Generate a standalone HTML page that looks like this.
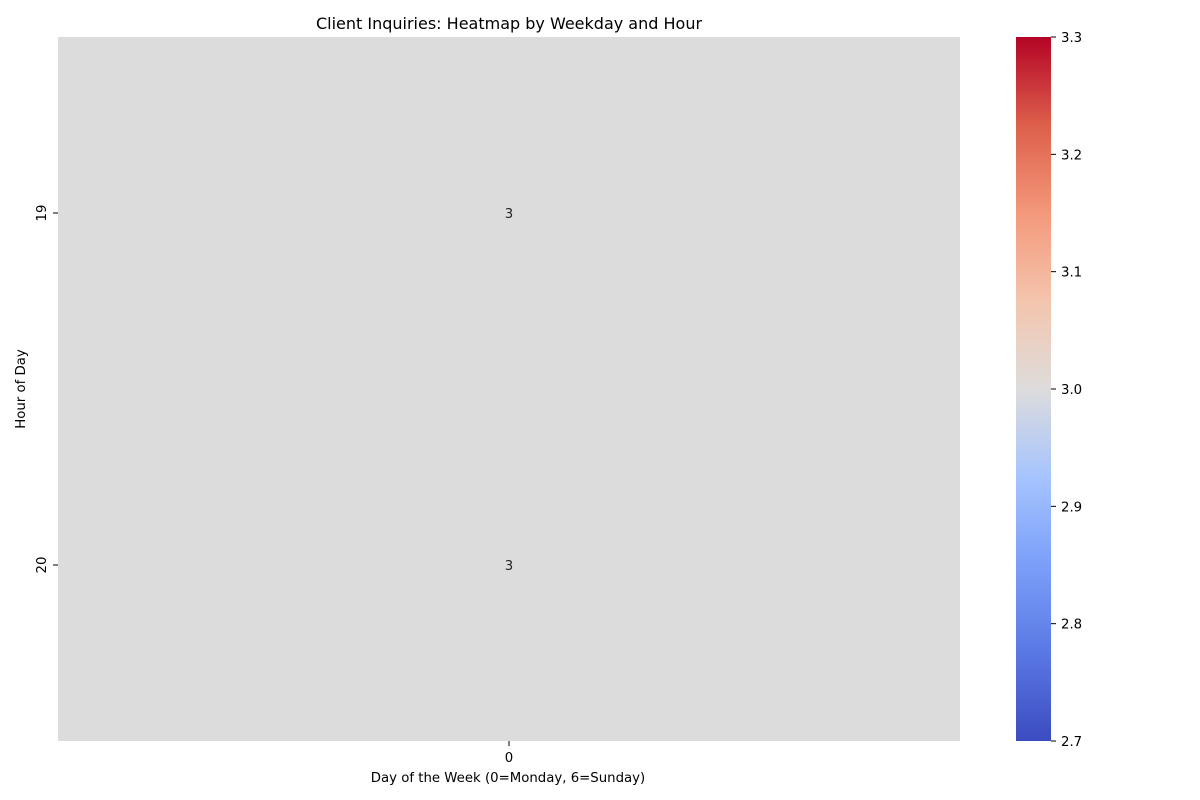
<!DOCTYPE html>
<html><head><meta charset="utf-8"><style>body{margin:0;background:#fff}svg{display:block;font-family:"DejaVu Sans","Liberation Sans",sans-serif}</style></head>
<body>
<svg id="c" width="1200" height="800">
<defs><linearGradient id="cw" x1="0" y1="1" x2="0" y2="0">
<stop offset="0" stop-color="#3b4cc0"/><stop offset="0.125" stop-color="#5a78e4"/><stop offset="0.25" stop-color="#7b9ff9"/><stop offset="0.375" stop-color="#a6c4fe"/><stop offset="0.5" stop-color="#dddcdc"/><stop offset="0.625" stop-color="#f4c5ad"/><stop offset="0.75" stop-color="#f4987a"/><stop offset="0.875" stop-color="#dd5f4b"/><stop offset="1" stop-color="#b40426"/></linearGradient></defs>
<text x="509" y="29" font-size="16" text-anchor="middle">Client Inquiries: Heatmap by Weekday and Hour</text>
<g id="cells"></g>
<text x="508" y="782" font-size="13.3" text-anchor="middle">Day of the Week (0=Monday, 6=Sunday)</text>
<text transform="translate(25,389) rotate(-90)" font-size="13.3" text-anchor="middle">Hour of Day</text>
<rect x="1016" y="37" width="35" height="704" fill="url(#cw)"/>
<g id="cb"></g>
</svg>
<script>
const days=[0];
const hours=[19,20];
const values=[[3],[3]];
const cbTicks=[2.7,2.8,2.9,3.0,3.1,3.2,3.3];
const vmin=2.7,vmax=3.3;
const ns="http://www.w3.org/2000/svg";
const L=58,R=960,T=37,B=741;
const cw=(R-L)/days.length,ch=(B-T)/hours.length;
const stops=[[59,76,192],[90,120,228],[123,159,249],[166,196,254],[221,220,220],[244,197,173],[244,152,122],[221,95,75],[180,4,38]];
function color(v){let t=Math.max(0,Math.min(1,(v-vmin)/(vmax-vmin)))*8;let i=Math.min(7,Math.floor(t)),f=t-i;const a=stops[i],b=stops[i+1];return `rgb(${a.map((x,k)=>Math.round(x+(b[k]-x)*f)).join(',')})`;}
function mk(tag,attrs,txt){const e=document.createElementNS(ns,tag);for(const k in attrs)e.setAttribute(k,attrs[k]);if(txt!==undefined)e.textContent=txt;return e;}
const g=document.getElementById('cells');
hours.forEach((h,r)=>{days.forEach((d,c)=>{
 const v=values[r][c];
 const rc=mk('rect',{x:L+c*cw,y:T+r*ch,width:cw,height:ch,fill:color(v)});
 
 
 g.appendChild(rc);
 const t=mk('text',{x:L+(c+.5)*cw,y:T+(r+.5)*ch+5,'font-size':13.3,'text-anchor':'middle',fill:'#262626'},String(v));
 
 
 g.appendChild(t);
});
 const y=T+(r+.5)*ch;
 const tk=mk('line',{x1:L-5,x2:L,y1:y,y2:y,stroke:'#000'});
 
 
 g.appendChild(tk);
 const lb=mk('text',{transform:`translate(46,${y}) rotate(-90)`,'font-size':13.3,'text-anchor':'middle'},String(h));
 
 
 g.appendChild(lb);
});
days.forEach((d,c)=>{
 const x=L+(c+.5)*cw;
 const tk=mk('line',{x1:x,x2:x,y1:B,y2:B+5,stroke:'#000'});
 
 
 g.appendChild(tk);
 const lb=mk('text',{x:x,y:B+21,'font-size':13.3,'text-anchor':'middle'},String(d));
 
 
 g.appendChild(lb);
});
const cb=document.getElementById('cb');
cbTicks.forEach(v=>{
 const y=B-(v-vmin)/(vmax-vmin)*(B-T);
 const tk=mk('line',{x1:1051,x2:1056,y1:y,y2:y,stroke:'#000'});
 
 
 cb.appendChild(tk);
 const lb=mk('text',{x:1061,y:y+5,'font-size':13.3},v.toFixed(1));
 
 
 cb.appendChild(lb);
});
</script>
</body></html>
